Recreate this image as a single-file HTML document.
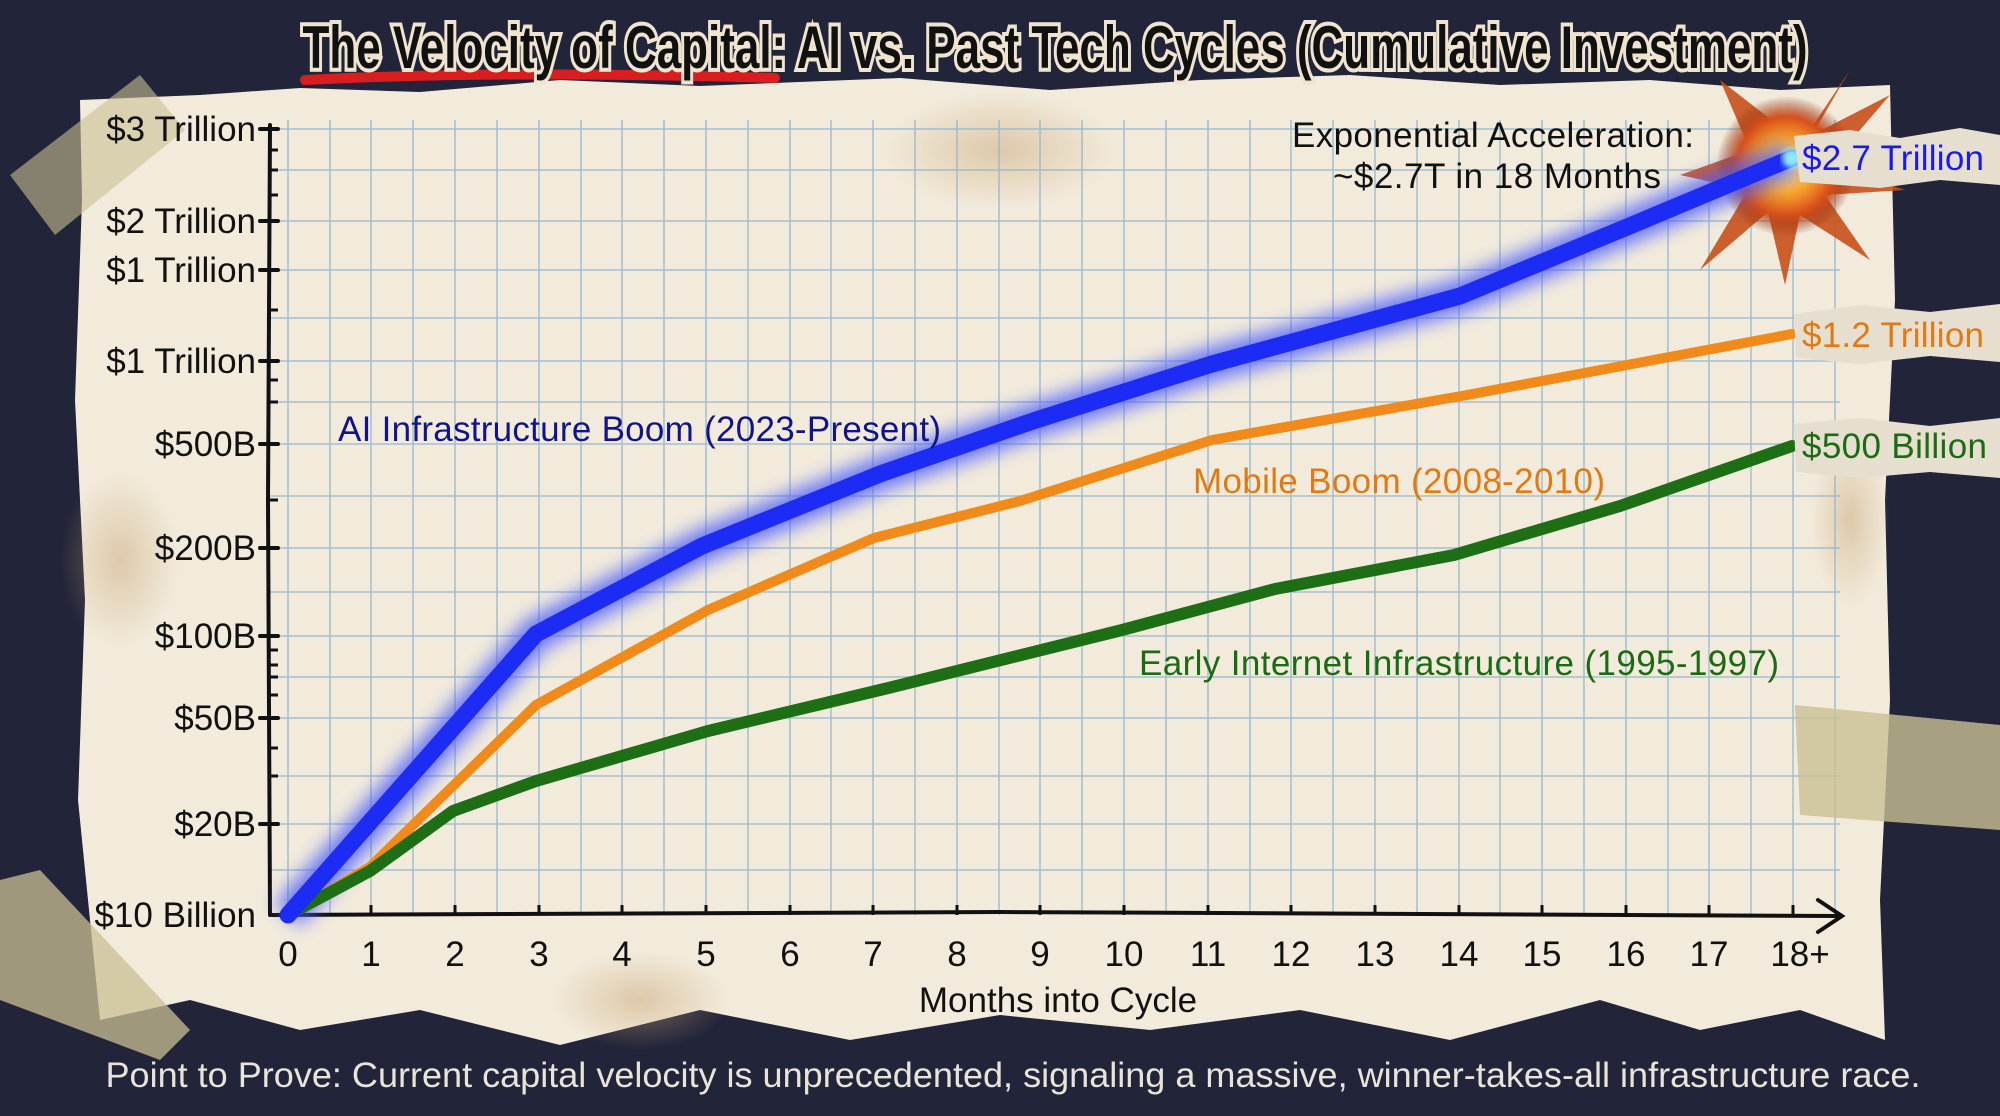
<!DOCTYPE html>
<html><head><meta charset="utf-8"><style>
html,body{margin:0;padding:0;background:#22243a;}
svg{display:block;}
</style></head><body>
<svg width="2000" height="1116" viewBox="0 0 2000 1116" xmlns="http://www.w3.org/2000/svg">
<defs>
<filter id="glow" x="-20%" y="-20%" width="140%" height="140%"><feGaussianBlur stdDeviation="9"/></filter>
<filter id="blur3"><feGaussianBlur stdDeviation="3"/></filter>
<radialGradient id="boom" cx="50%" cy="50%" r="50%">
<stop offset="0" stop-color="#fff6c0"/><stop offset="0.35" stop-color="#ffb030"/><stop offset="0.7" stop-color="#d8501a"/><stop offset="1" stop-color="#7a2a10" stop-opacity="0"/>
</radialGradient>
<radialGradient id="stain" cx="50%" cy="50%" r="50%"><stop offset="0" stop-color="#c9a676" stop-opacity="0.5"/><stop offset="1" stop-color="#c9a676" stop-opacity="0"/></radialGradient>
</defs>
<rect width="2000" height="1116" fill="#22243a"/>
<!-- paper -->
<path d="M80,100 L200,95 300,88 420,92 560,80 700,86 900,78 1050,90 1200,80 1350,75 1500,85 1650,80 1780,90 1890,85 1895,300 1885,500 1890,700 1880,900 1885,1040 1800,1010 1700,1030 1600,1000 1450,1040 1300,1010 1150,1030 1000,1015 850,1040 700,1010 560,1045 420,1010 300,1030 190,1000 100,1020 78,800 85,600 75,400 82,200 Z" fill="#f2ebdc"/>
<ellipse cx="1000" cy="150" rx="120" ry="60" fill="url(#stain)"/>
<ellipse cx="120" cy="560" rx="60" ry="90" fill="url(#stain)"/>
<ellipse cx="640" cy="1000" rx="90" ry="50" fill="url(#stain)"/>
<ellipse cx="1850" cy="520" rx="40" ry="90" fill="url(#stain)"/>
<!-- grid -->
<g stroke="#8fb4cc" stroke-width="1.5" opacity="0.8">
<path d="M288,120V915M330,120V915M371,120V915M413,120V915M455,120V915M497,120V915M539,120V915M581,120V915M622,120V915M664,120V915M706,120V915M748,120V915M790,120V915M831,120V915M873,120V915M915,120V915M957,120V915M999,120V915M1040,120V915M1082,120V915M1124,120V915M1166,120V915M1208,120V915M1250,120V915M1291,120V915M1333,120V915M1375,120V915M1417,120V915M1459,120V915M1500,120V915M1542,120V915M1584,120V915M1626,120V915M1668,120V915M1709,120V915M1751,120V915M1793,120V915M1835,120V915"/>
<path d="M268,129H1840M268,170H1840M268,221H1840M268,270H1840M268,318H1840M268,361H1840M268,402H1840M268,444H1840M268,496H1840M268,548H1840M268,592H1840M268,636H1840M268,677H1840M268,718H1840M268,776H1840M268,824H1840M268,870H1840"/>
</g>
<!-- axes -->
<g stroke="#111" stroke-width="4" fill="none" stroke-linecap="round">
<path d="M270,125 L268,500 270,915"/>
<path d="M272,915 L1000,912 1840,916"/>
<path d="M1818,900 L1842,916 1818,932"/>
<path d="M260,129h18M260,221h18M260,270h18M260,361h18M260,444h18M260,548h18M260,636h18M260,718h18M260,824h18"/>
</g>
<g stroke="#111" stroke-width="3">
<path d="M270,150h8M270,170h8M270,195h8M270,310h8M270,380h8M270,402h8M270,500h8M270,650h8M270,665h8M270,677h8M270,695h8M270,748h8M270,776h8"/>
<path d="M288,905v10M371,905v10M455,905v10M539,905v10M622,905v10M706,905v10M790,905v10M873,905v10M957,905v10M1040,905v10M1124,905v10M1208,905v10M1291,905v10M1375,905v10M1459,905v10M1542,905v10M1626,905v10M1709,905v10M1793,905v10"/>
</g>
<!-- tapes (behind labels) -->
<polygon points="10,175 140,75 185,130 55,235" fill="#c9bf93" opacity="0.6"/>
<!-- y labels -->
<g font-family="Liberation Sans, sans-serif" font-size="35" fill="#111" text-anchor="end">
<text x="256" y="141">$3 Trillion</text>
<text x="256" y="233">$2 Trillion</text>
<text x="256" y="282">$1 Trillion</text>
<text x="256" y="373">$1 Trillion</text>
<text x="256" y="456">$500B</text>
<text x="256" y="560">$200B</text>
<text x="256" y="648">$100B</text>
<text x="256" y="730">$50B</text>
<text x="256" y="836">$20B</text>
<text x="256" y="927">$10 Billion</text>
</g>
<!-- x labels -->
<g font-family="Liberation Sans Narrow, Liberation Sans, sans-serif" font-size="35" fill="#111" text-anchor="middle">
<text x="288" y="966">0</text><text x="371" y="966">1</text><text x="455" y="966">2</text><text x="539" y="966">3</text><text x="622" y="966">4</text><text x="706" y="966">5</text><text x="790" y="966">6</text><text x="873" y="966">7</text><text x="957" y="966">8</text><text x="1040" y="966">9</text><text x="1124" y="966">10</text><text x="1208" y="966">11</text><text x="1291" y="966">12</text><text x="1375" y="966">13</text><text x="1459" y="966">14</text><text x="1542" y="966">15</text><text x="1626" y="966">16</text><text x="1709" y="966">17</text><text x="1800" y="966">18+</text>
<text x="1058" y="1012">Months into Cycle</text>
</g>
<!-- explosion -->
<g>
<path d="M1786,166 L1850,70 1812,135 1890,95 1830,165 1905,190 1825,195 1870,260 1800,215 1785,285 1768,212 1700,270 1748,190 1680,175 1750,150 1720,80 1778,125 Z" fill="#c8501a" opacity="0.9"/>
<circle cx="1786" cy="166" r="70" fill="url(#boom)"/>
</g>
<!-- series -->
<polyline points="288,915 536,634 702,546 880,474 1033,421 1212,364 1460,296 1620,230 1792,158" fill="none" stroke="#4a5cff" stroke-width="34" stroke-linejoin="round" filter="url(#glow)" opacity="0.8"/>
<polyline points="288,915 370,867 536,705 708,610 874,538 1020,501 1212,440 1467,395 1792,334" fill="none" stroke="#f08a1a" stroke-width="10" stroke-linejoin="round" stroke-linecap="round"/>
<polyline points="288,915 370,871 453,811 536,781 708,731 880,690 1122,630 1275,589 1454,555 1620,506 1792,446" fill="none" stroke="#1e6e16" stroke-width="12" stroke-linejoin="round" stroke-linecap="round"/>
<polyline points="288,915 536,634 702,546 880,474 1033,421 1212,364 1460,296 1620,230 1792,158" fill="none" stroke="#1d2cf5" stroke-width="17" stroke-linejoin="round" stroke-linecap="round"/>
<circle cx="1792" cy="158" r="10" fill="#8fe8ff" filter="url(#blur3)"/>
<!-- annotations -->
<g font-family="Liberation Sans, sans-serif" font-size="35" lengthAdjust="spacingAndGlyphs">
<text x="338" y="441" fill="#10148c" textLength="603">AI Infrastructure Boom (2023-Present)</text>
<text x="1193" y="493" fill="#e07a12" textLength="412">Mobile Boom (2008-2010)</text>
<text x="1139" y="675" fill="#1d6a14" textLength="640">Early Internet Infrastructure (1995-1997)</text>
<text x="1292" y="147" fill="#111" textLength="402">Exponential Acceleration:</text>
<text x="1333" y="188" fill="#111" textLength="328">~$2.7T in 18 Months</text>
</g>
<!-- end labels on torn patches -->
<g>
<path d="M1794,136 L1850,130 1900,138 1960,128 2000,135 2000,185 1940,180 1880,188 1800,182 Z" fill="#e6dfd0"/>
<path d="M1794,314 L1860,305 1930,312 2000,304 2000,362 1930,356 1860,364 1796,358 Z" fill="#e6dfd0"/>
<path d="M1794,424 L1860,418 1930,426 2000,418 2000,478 1930,472 1860,478 1796,472 Z" fill="#e6dfd0"/>
</g>
<g font-family="Liberation Sans, sans-serif" font-size="35">
<text x="1802" y="170" fill="#1a1af0" textLength="182">$2.7 Trillion</text>
<text x="1802" y="347" fill="#e07a12" textLength="182">$1.2 Trillion</text>
<text x="1802" y="458" fill="#1d6a14" textLength="185">$500 Billion</text>
</g>
<!-- tapes -->
<polygon points="0,880 40,870 190,1030 160,1060 0,1000" fill="#c9bf93" opacity="0.75"/>
<polygon points="1795,705 2000,725 2000,830 1800,815" fill="#c9bf93" opacity="0.8"/>
<!-- title -->
<g font-family="Liberation Sans Narrow, Liberation Sans, sans-serif" font-weight="bold" font-size="60" text-anchor="middle">
<path d="M305,80 Q500,70 775,78" stroke="#d81e1e" stroke-width="10" fill="none" stroke-linecap="round"/>
<text x="1055" y="68" textLength="1505" lengthAdjust="spacingAndGlyphs" fill="#111" stroke="#efe4cf" stroke-width="8" paint-order="stroke">The Velocity of Capital: AI vs. Past Tech Cycles (Cumulative Investment)</text>
</g>
<!-- footer -->
<text x="1013" y="1087" font-family="Liberation Sans, sans-serif" font-size="35" fill="#e8e4da" text-anchor="middle" textLength="1815" lengthAdjust="spacingAndGlyphs">Point to Prove: Current capital velocity is unprecedented, signaling a massive, winner-takes-all infrastructure race.</text>
</svg>
</body></html>
